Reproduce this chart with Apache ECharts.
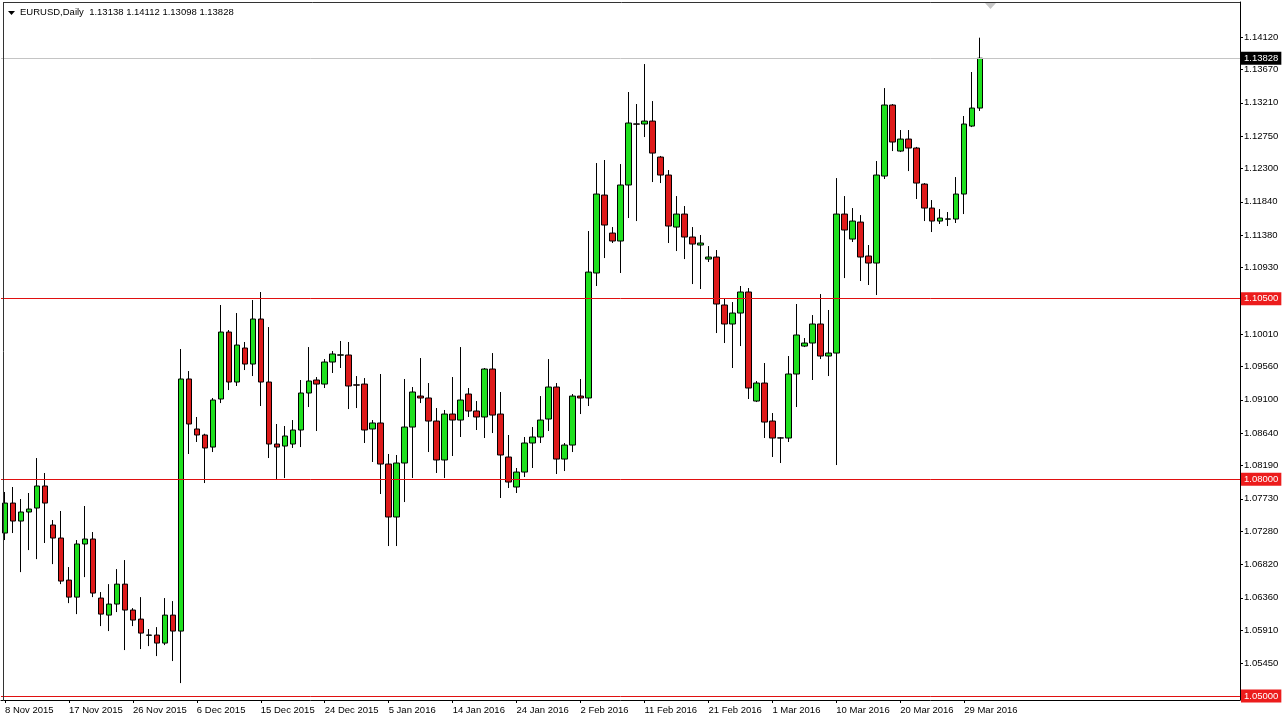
<!DOCTYPE html>
<html>
<head>
<meta charset="utf-8">
<script src="https://cdn.jsdelivr.net/npm/echarts@6/dist/echarts.min.js"></script>
<style>
html,body{margin:0;padding:0;background:#ffffff;}
#c{width:1284px;height:723px;}
</style>
</head>
<body>
<div id="c"></div>
<script>
// ---------- data ----------
const symbolName = 'EURUSD';
const timeframe = 'Daily';

// trading days shown (broker has Sunday bars, no bars on 25 Dec / 1 Jan)
const nov2015 = [8,9,10,11,12,13,15,16,17,18,19,20,22,23,24,25,26,27,29,30];
const dec2015 = [1,2,3,4,6,7,8,9,10,11,13,14,15,16,17,18,20,21,22,23,24,27,28,29,30,31];
const jan2016 = [3,4,5,6,7,8,10,11,12,13,14,15,17,18,19,20,21,22,24,25,26,27,28,29,31];
const feb2016 = [1,2,3,4,5,7,8,9,10,11,12,14,15,16,17,18,19,21,22,23,24,25,26,28,29];
const mar2016 = [1,2,3,4,6,7,8,9,10,11,13,14,15,16,17,18,20,21,22,23,24,25,27,28,29,30,31];

const openP = [
1.07256,1.07671,1.07422,1.07547,1.07602,1.07907,1.07367,1.07187,1.06605,1.06369,
1.07104,1.07173,1.06356,1.06120,1.06273,1.06549,1.06190,1.06065,1.05840,1.05844,
1.05733,1.06120,1.05899,1.09388,1.08696,1.08613,1.08446,1.09111,1.10038,1.09346,
1.09817,1.09595,1.10218,1.09346,1.08488,1.08460,1.08488,1.08682,1.09194,1.09374,
1.09318,1.09623,1.09718,1.09720,1.09307,1.09318,1.08696,1.08779,1.08211,1.07478,
1.08225,1.08723,1.09152,1.09125,1.08806,1.08267,1.08903,1.08820,1.09180,1.08945,
1.08862,1.09526,1.08903,1.08308,1.07893,1.08100,1.08502,1.08585,1.08834,1.09277,
1.08280,1.08474,1.09152,1.09125,1.10855,1.11934,1.11408,1.11298,1.12073,1.12919,
1.12917,1.12958,1.12460,1.12211,1.11491,1.11671,1.11353,1.11242,1.11048,1.11076,
1.10412,1.10149,1.10301,1.10592,1.09083,1.09332,1.08806,1.08573,1.08571,1.09457,
1.09844,1.09886,1.10149,1.09706,1.09747,1.11671,1.11325,1.11560,1.11090,1.10993,
1.12197,1.13180,1.12543,1.12709,1.12585,1.12086,1.11754,1.11574,1.11600,1.11602,
1.11948,1.12889,1.13138];

const highP = [
1.07824,1.07893,1.07727,1.07810,1.08294,1.08087,1.07436,1.07561,1.06785,1.07159,
1.07630,1.07270,1.06439,1.06549,1.06757,1.06882,1.06217,1.06369,1.05927,1.05954,
1.06356,1.06314,1.09803,1.09498,1.08862,1.08630,1.09125,1.10412,1.10066,1.10301,
1.09900,1.10481,1.10592,1.10107,1.08765,1.08737,1.08820,1.09374,1.09830,1.09415,
1.09664,1.09775,1.09914,1.09900,1.09429,1.09401,1.08820,1.09457,1.08350,1.08336,
1.09388,1.09277,1.09678,1.09332,1.08986,1.08959,1.09415,1.09830,1.09263,1.09083,
1.09540,1.09747,1.09208,1.08613,1.08156,1.08585,1.08723,1.09152,1.09664,1.09332,
1.08502,1.09180,1.09388,1.11436,1.12377,1.12419,1.11491,1.12363,1.13360,1.13194,
1.13747,1.13235,1.12475,1.12280,1.11920,1.11782,1.11491,1.11381,1.11228,1.11173,
1.10509,1.10453,1.10675,1.10647,1.09360,1.09609,1.08917,1.08585,1.09706,1.10426,
1.09955,1.10273,1.10564,1.10343,1.12169,1.11920,1.11754,1.11657,1.11242,1.12405,
1.13415,1.13194,1.12834,1.12834,1.12600,1.12100,1.11865,1.11740,1.11699,1.12183,
1.13028,1.13637,1.14112];

const lowP = [
1.07159,1.07256,1.06715,1.07020,1.06895,1.07118,1.06826,1.06549,1.06286,1.06134,
1.06646,1.06369,1.05968,1.05899,1.06162,1.05636,1.05968,1.05650,1.05691,1.05553,
1.05705,1.05484,1.05179,1.08350,1.08516,1.07948,1.08377,1.09055,1.09235,1.09291,
1.09512,1.09429,1.09014,1.08294,1.08004,1.08017,1.08433,1.08446,1.09000,1.08668,
1.09263,1.09471,1.09540,1.08972,1.08986,1.08502,1.08239,1.07796,1.07076,1.07076,
1.07685,1.08017,1.09055,1.08377,1.08087,1.08017,1.08322,1.08585,1.08862,1.08682,
1.08571,1.08640,1.07741,1.07879,1.07810,1.08031,1.08156,1.08502,1.08668,1.08073,
1.08114,1.08377,1.08903,1.09014,1.10675,1.11062,1.11270,1.10855,1.11616,1.11574,
1.12737,1.12114,1.12100,1.11270,1.11159,1.11048,1.10702,1.10633,1.11007,1.10024,
1.09886,1.09540,1.09844,1.09111,1.09069,1.08571,1.08308,1.08225,1.08516,1.09000,
1.09830,1.09374,1.09664,1.09429,1.08197,1.10785,1.11284,1.10744,1.10689,1.10550,
1.12156,1.12543,1.12529,1.12266,1.11879,1.11574,1.11422,1.11533,1.11505,1.11547,
1.11671,1.12875,1.13098];

const closeP = [
1.07671,1.07422,1.07547,1.07588,1.07907,1.07671,1.07187,1.06591,1.06369,1.07104,
1.07173,1.06425,1.06134,1.06273,1.06549,1.06190,1.06051,1.05871,1.05845,1.05733,
1.06120,1.05899,1.09388,1.08765,1.08613,1.08433,1.09097,1.10038,1.09346,1.09858,
1.09595,1.10218,1.09346,1.08488,1.08446,1.08599,1.08682,1.09194,1.09360,1.09318,
1.09623,1.09734,1.09722,1.09291,1.09303,1.08682,1.08779,1.08211,1.07478,1.08225,
1.08723,1.09208,1.09125,1.08806,1.08267,1.08903,1.08820,1.09097,1.08945,1.08862,
1.09526,1.08889,1.08336,1.07962,1.08100,1.08502,1.08585,1.08820,1.09277,1.08280,
1.08474,1.09152,1.09125,1.10868,1.11948,1.11519,1.11298,1.12073,1.12931,1.12915,
1.12958,1.12515,1.12211,1.11505,1.11671,1.11353,1.11256,1.11270,1.11076,1.10426,
1.10149,1.10301,1.10592,1.09263,1.09332,1.08792,1.08571,1.08571,1.09457,1.09997,
1.09886,1.10149,1.09706,1.09747,1.11671,1.11450,1.11574,1.11076,1.10993,1.12211,
1.13180,1.12668,1.12709,1.12585,1.12100,1.11754,1.11574,1.11616,1.11604,1.11948,
1.12917,1.13138,1.13828];

// price-scale tick labels and horizontal levels
const yTickValues = [1.05450,1.05910,1.06360,1.06820,1.07280,1.07730,1.08190,1.08640,1.09100,1.09560,
                     1.10010,1.10470,1.10930,1.11380,1.11840,1.12300,1.12750,1.13210,1.13670,1.14120];
const levelLines = [1.10500, 1.08000, 1.05000];
const yRange = [1.04945, 1.14606];
const emptyBarsRight = 32;   // chart shift area

// ---------- build ----------
function monthLabels(days, mon, yr){ return days.map(d => d + ' ' + mon + ' ' + yr); }
const categories = [].concat(
  monthLabels(nov2015,'Nov',2015), monthLabels(dec2015,'Dec',2015),
  monthLabels(jan2016,'Jan',2016), monthLabels(feb2016,'Feb',2016),
  monthLabels(mar2016,'Mar',2016));
const nBars = categories.length;
const xData = categories.concat(new Array(emptyBarsRight).fill(''));
const candles = openP.map((o,i) => [o, closeP[i], lowP[i], highP[i]]);
const last = nBars - 1;
const lastClose = closeP[last];

const FONT = '"Liberation Sans", Arial, sans-serif';
const showIdx = (i) => i % 8 === 0 && i < nBars;

function levelLine(value, lineColor, boxColor) {
  return {
    type: 'line', data: [], silent: true, z: 1,
    markLine: {
      symbol: 'none', silent: true, animation: false, precision: 5,
      lineStyle: {color: lineColor, type: 'solid', width: 1},
      label: {position: 'end', distance: 1, fontSize: 9.5, fontFamily: FONT, color: '#fff',
               backgroundColor: boxColor, padding: [2, 3, 1, 3],
               formatter: p => Number(p.value).toFixed(5)},
      emphasis: {disabled: true},
      data: [{yAxis: value}]
    }
  };
}

const chart = echarts.init(document.getElementById('c'), null, {renderer:'canvas'});
const option = {
  animation: false,
  backgroundColor: '#ffffff',
  textStyle: {fontFamily: FONT},
  title: {
    text: symbolName + ',' + timeframe + '  ' +
      [openP[last], highP[last], lowP[last], closeP[last]].map(v => v.toFixed(5)).join(' '),
    left: 20, top: 7, padding: 0,
    textStyle: {fontSize: 9.5, fontWeight: 'normal', color: '#000', fontFamily: FONT}
  },
  grid: {left: 1, right: 44, top: 2, bottom: 23, containLabel: false},
  xAxis: {
    type: 'category',
    data: xData,
    boundaryGap: true,
    axisLine: {show: true, lineStyle: {color: '#000', width: 1}},
    axisTick: {show: true, alignWithLabel: true, length: 3, interval: showIdx, lineStyle: {color: '#000'}},
    axisLabel: {interval: showIdx, align: 'left', margin: 5, fontSize: 9.5, color: '#000', fontFamily: FONT},
    splitLine: {show: false}
  },
  yAxis: {
    type: 'value',
    position: 'right',
    min: yRange[0], max: yRange[1],
    axisLine: {show: true, lineStyle: {color: '#000', width: 1}},
    axisTick: {show: true, length: 3, customValues: yTickValues, lineStyle: {color: '#000'}},
    axisLabel: {customValues: yTickValues, formatter: v => Number(v).toFixed(5), margin: 4,
                fontSize: 9.5, color: '#000', fontFamily: FONT},
    splitLine: {show: false}
  },
  series: [
    levelLine(lastClose, '#c4c4c4', '#000000')
  ].concat(levelLines.map(v => levelLine(v, '#e01010', '#ec1c1c'))).concat([{
    type: 'candlestick',
    data: candles,
    barWidth: 6,
    z: 3,
    itemStyle: {
      color: '#1ee01e', color0: '#de1a1a',
      borderColor: '#000', borderColor0: '#000', borderColorDoji: '#000', borderWidth: 1
    }
  }]),
  graphic: [
    {type: 'line', shape: {x1: 3.5, y1: 2, x2: 3.5, y2: 701}, style: {stroke: '#333', lineWidth: 1}, z: 100},
    {type: 'line', shape: {x1: 3, y1: 2.5, x2: 1240, y2: 2.5}, style: {stroke: '#333', lineWidth: 1}, z: 100},
    {type: 'polygon', shape: {points: [[8,11],[15,11],[11.5,15]]}, style: {fill: '#000'}, z: 100},
    {type: 'polygon', shape: {points: [[985,3],[996,3],[990.5,9]]}, style: {fill: '#c8c8c8'}, z: 100}
  ]
};
chart.setOption(option);
</script>
</body>
</html>
